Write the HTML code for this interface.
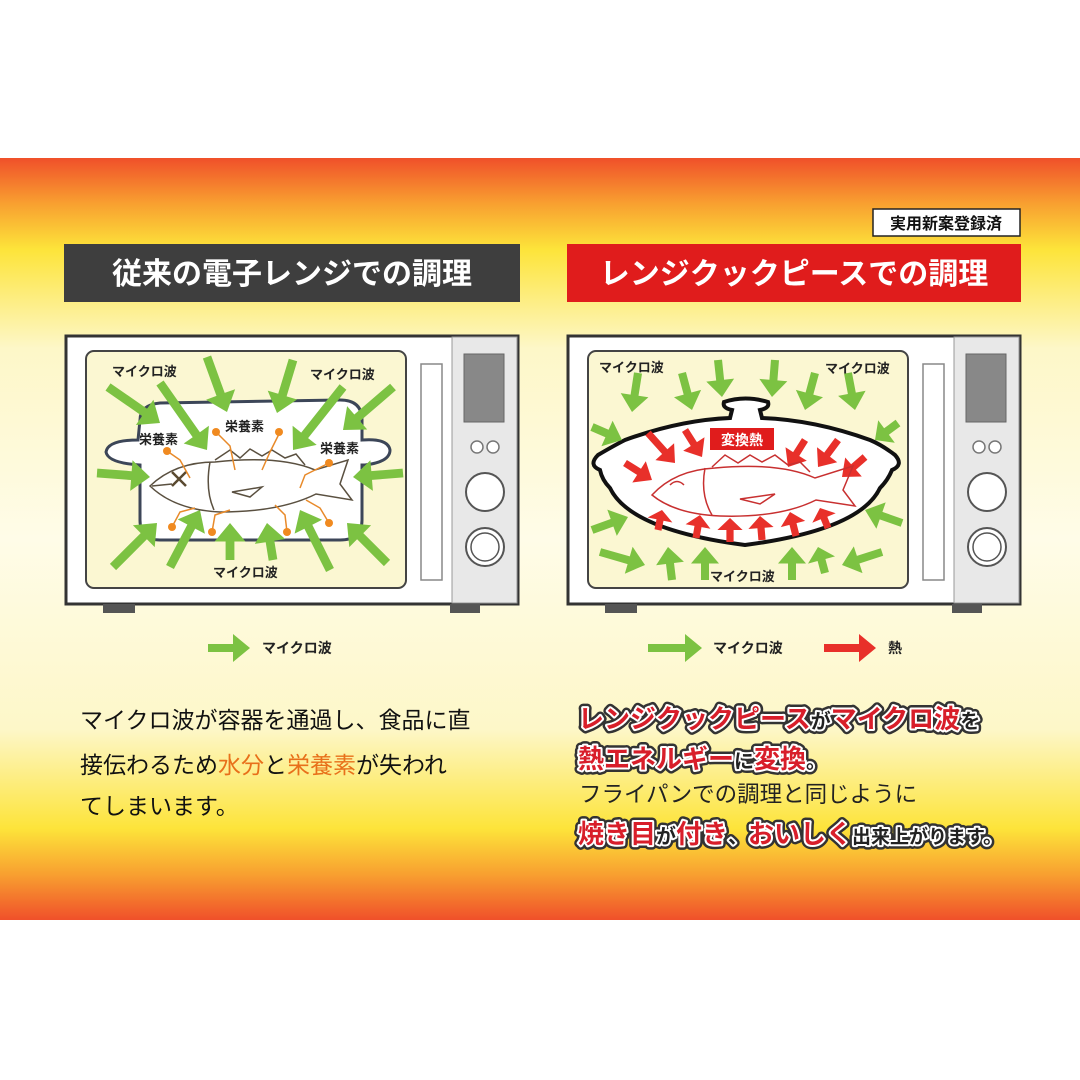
<!DOCTYPE html>
<html><head><meta charset="utf-8"><style>
html,body{margin:0;padding:0;background:#fff}
svg{display:block}
text{font-family:"Liberation Sans","Noto Sans CJK JP",sans-serif}
</style></head><body>
<svg id="s" width="1080" height="1080" viewBox="0 0 1080 1080" xmlns="http://www.w3.org/2000/svg">
<defs>
<linearGradient id="bg" x1="0" y1="158" x2="0" y2="920" gradientUnits="userSpaceOnUse">
<stop offset="0" stop-color="#f0502a"/>
<stop offset="0.06" stop-color="#f8a030"/>
<stop offset="0.12" stop-color="#fde43a"/>
<stop offset="0.25" stop-color="#fdf7c8"/>
<stop offset="0.5" stop-color="#fffce8"/>
<stop offset="0.75" stop-color="#fdf7c8"/>
<stop offset="0.88" stop-color="#fde43a"/>
<stop offset="0.94" stop-color="#f8a030"/>
<stop offset="1" stop-color="#f0502a"/>
</linearGradient>
</defs>
<rect x="0" y="158" width="1080" height="762" fill="url(#bg)"/>

<rect x="873" y="209" width="147" height="27" fill="#fff" stroke="#222" stroke-width="1.5"/>
<text x="946" y="229" font-size="16" text-anchor="middle" fill="#111" font-weight="bold">実用新案登録済</text>

<rect x="64" y="244" width="456" height="58" fill="#3e3e3e"/>
<text x="292" y="284" font-size="30" font-weight="bold" fill="#fff" text-anchor="middle">従来の電子レンジでの調理</text>
<rect x="567" y="244" width="454" height="58" fill="#e01c1c"/>
<text x="794" y="284" font-size="30" font-weight="bold" fill="#fff" text-anchor="middle">レンジクックピースでの調理</text>

<g id="mw1">
<rect x="66" y="336" width="452" height="268" fill="#fff" stroke="#333" stroke-width="3"/>
<rect x="452" y="337" width="65" height="266" fill="#e8e8e8" stroke="#999" stroke-width="1"/>
<rect x="86" y="351" width="320" height="237" rx="8" fill="#fbf7d2" stroke="#444" stroke-width="2"/>
<rect x="421" y="364" width="21" height="216" fill="#fff" stroke="#888" stroke-width="1.5"/>
<rect x="464" y="354" width="40" height="68" fill="#888" stroke="#666"/>
<circle cx="477" cy="447" r="6" fill="#fff" stroke="#777" stroke-width="1.5"/>
<circle cx="493" cy="447" r="6" fill="#fff" stroke="#777" stroke-width="1.5"/>
<circle cx="485" cy="492" r="19" fill="#fff" stroke="#555" stroke-width="2"/>
<circle cx="485" cy="547" r="19" fill="#fff" stroke="#555" stroke-width="2"/>
<circle cx="485" cy="547" r="14" fill="#fff" stroke="#555" stroke-width="1.5"/>
<rect x="103" y="604" width="32" height="9" fill="#555"/>
<rect x="450" y="604" width="30" height="9" fill="#555"/>
</g>
<use href="#mw1" x="502"/>

<path d="M140 420 Q140 405 160 403 L340 400 Q362 400 362 420 L362 440 Q388 438 390 450 Q390 462 365 465 L362 465 L362 520 Q362 540 340 540 L160 540 Q140 540 140 520 L140 465 Q108 463 106 452 Q108 440 138 440 Z" fill="#fff" stroke="#3c4658" stroke-width="3"/>
<path d="M600 470 Q588 465 598 455 Q615 445 625 440 Q680 420 730 418 L732 410 Q722 408 724 402 Q745 395 768 402 Q770 408 760 410 L762 418 Q815 420 870 440 Q882 445 895 455 Q904 465 892 470 Q888 480 880 488 Q860 530 745 545 Q630 530 610 488 Q602 480 600 470 Z" fill="#fff" stroke="#111" stroke-width="4"/>

<g id="arrows"></g>

<g fill="none" stroke="#5a5040" stroke-width="1.5">
<path d="M150 486 Q175 462 215 462 Q280 455 315 470 L348 460 L340 484 L352 500 L316 494 Q280 512 220 512 Q175 510 150 486 Z"/>
<path d="M210 462 Q205 490 214 510"/>
<path d="M215 460 L230 450 L240 458 L250 449 L262 456 L272 450 L285 458 L296 454 L305 465"/>
<path d="M232 492 L262 487 L250 497 Z"/>
<path d="M152 486 L172 484"/>
</g>
<path d="M172 472 L186 486 M186 472 L172 486" stroke="#5a4a30" stroke-width="2.5"/>
<g stroke="#e88a2a" stroke-width="1.5" fill="none">
<path d="M167 451 L180 460 L190 478"/><path d="M218 434 L230 446 L235 470"/>
<path d="M279 434 L270 452 L262 470"/><path d="M329 463 L305 475 L300 488"/>
<path d="M172 527 L180 512 L195 508"/><path d="M212 532 L215 515 L230 510"/>
<path d="M287 532 L285 515 L275 505"/><path d="M329 523 L320 508 L306 500"/>
</g>
<g fill="#f08a20">
<circle cx="167" cy="451" r="4"/><circle cx="216" cy="432" r="4"/><circle cx="279" cy="432" r="4"/><circle cx="329" cy="463" r="4"/>
<circle cx="172" cy="527" r="4"/><circle cx="212" cy="532" r="4"/><circle cx="287" cy="532" r="4"/><circle cx="329" cy="523" r="4"/>
</g>
<g font-size="13" fill="#222" font-weight="bold">
<text x="112" y="376">マイクロ波</text><text x="310" y="379">マイクロ波</text>
<text x="213" y="577">マイクロ波</text>
<text x="139" y="444">栄養素</text><text x="225" y="431">栄養素</text><text x="320" y="453">栄養素</text>
</g>

<g fill="none" stroke="#c83030" stroke-width="1.5">
<path d="M652 495 Q675 470 715 468 Q780 462 815 478 L853 466 L843 490 L855 506 L816 500 Q780 518 720 516 Q675 514 652 495 Z"/>
<path d="M705 468 Q700 495 712 515"/>
<path d="M712 467 L725 455 L738 463 L750 455 L762 462 L775 455 L788 465 L800 462 L810 472"/>
<path d="M740 499 L775 494 L760 504 Z"/>
<path d="M670 485 Q677 478 684 485"/>
</g>
<rect x="710" y="428" width="64" height="22" fill="#e01c1c"/>
<text x="742" y="445" font-size="14" fill="#fff" text-anchor="middle" font-weight="bold">変換熱</text>
<g font-size="13" fill="#222" font-weight="bold">
<text x="599" y="372">マイクロ波</text><text x="825" y="373">マイクロ波</text>
<text x="710" y="581">マイクロ波</text>
</g>

<g id="leg"></g>
<text x="262" y="653" font-size="14" font-weight="bold" fill="#222">マイクロ波</text>
<text x="713" y="653" font-size="14" font-weight="bold" fill="#222">マイクロ波</text>
<text x="888" y="653" font-size="14" font-weight="bold" fill="#222">熱</text>

<g font-size="23" fill="#111">
<text x="80" y="728">マイクロ波が容器を通過し、食品に直</text>
<text x="80" y="773">接伝わるため<tspan fill="#e8701a">水分</tspan>と<tspan fill="#e8701a">栄養素</tspan>が失われ</text>
<text x="80" y="814">てしまいます。</text>
</g>

<g id="rt" font-weight="bold"></g>
<text x="579" y="802" font-size="22.5" fill="#222">フライパンでの調理と同じように</text>
</svg>
<script>
var NS="http://www.w3.org/2000/svg";
function el(p,t,a){var e=document.createElementNS(NS,t);for(var k in a)e.setAttribute(k,a[k]);p.appendChild(e);return e;}
var G=document.getElementById('arrows');
function arr(p,x1,y1,x2,y2,w,c){var dx=x2-x1,dy=y2-y1,L=Math.hypot(dx,dy),ux=dx/L,uy=dy/L,nx=-uy,ny=ux;
var hl=Math.min(L*0.5,w*1.7),hw=w*1.4,tw=w*0.8,bx=x2-ux*hl,by=y2-uy*hl;
var pts=[[x1+nx*tw/2,y1+ny*tw/2],[bx+nx*tw/2,by+ny*tw/2],[bx+nx*hw,by+ny*hw],[x2,y2],[bx-nx*hw,by-ny*hw],[bx-nx*tw/2,by-ny*tw/2],[x1-nx*tw/2,y1-ny*tw/2]];
el(p,'polygon',{points:pts.map(function(q){return q[0].toFixed(1)+','+q[1].toFixed(1)}).join(' '),fill:c});}
var g='#7cc242',r='#e8302a';
[[108,387,160,423],[160,383,207,450],[207,357,227,412],[293,360,277,413],[343,387,293,450],[393,387,343,430],[97,473,150,477],[403,473,353,477],[113,567,157,523],[170,567,200,510],[230,560,230,523],[273,560,267,523],[330,570,300,510],[387,563,347,523]].forEach(function(a){arr(G,a[0],a[1],a[2],a[3],11,g)});
[[638,373,632,412],[682,373,692,410],[718,360,722,397],[775,360,772,397],[815,373,805,410],[848,373,855,410],[592,427,622,440],[898,423,875,440],[592,530,628,517],[902,523,865,510],[600,552,645,565],[672,580,668,547],[705,580,705,547],[792,580,792,547],[825,573,818,547],[882,552,842,565]].forEach(function(a){arr(G,a[0],a[1],a[2],a[3],10,g)});
[[648,433,675,463],[685,430,702,457],[625,463,652,480],[805,440,788,467],[838,440,818,467],[865,457,842,477],[658,530,662,510],[696,538,700,515],[730,542,730,518],[762,540,760,516],[796,536,790,512],[828,528,820,508]].forEach(function(a){arr(G,a[0],a[1],a[2],a[3],9,r)});
var LG=document.getElementById('leg');
arr(LG,208,648,250,648,10,g);arr(LG,648,648,702,648,10,g);arr(LG,824,648,876,648,10,r);
var RT=document.getElementById('rt');
function out(x,y,segs){var t=[['#333',9],['#fff',4]];
t.forEach(function(s){var e=el(RT,'text',{x:x,y:y,'font-size':26,fill:'none',stroke:s[0],'stroke-width':s[1],'stroke-linejoin':'round'});segs.forEach(function(q){var sp=el(e,'tspan',{'font-size':q[1]});sp.textContent=q[0];});});
var e=el(RT,'text',{x:x,y:y,'font-size':26});segs.forEach(function(q){var sp=el(e,'tspan',{'font-size':q[1],fill:q[2]});sp.textContent=q[0];});}
var R='#d81e2a',K='#222';
out(578,728,[['レンジクックピース',26,R],['が',20,K],['マイクロ波',26,R],['を',20,K]]);
out(578,768,[['熱エネルギー',26,R],['に',20,K],['変換',26,R],['。',20,K]]);
out(578,843,[['焼き目',26,R],['が',20,K],['付き',26,R],['、',20,K],['おいしく',26,R],['出来上がります。',19,K]]);
</script>
</body></html>
